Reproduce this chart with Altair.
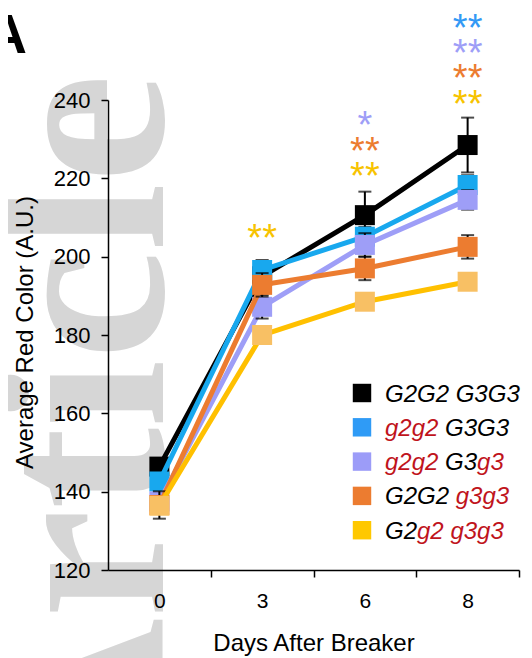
import altair as alt
import pandas as pd

# ---------------- data ----------------
days = ["0", "3", "6", "8"]
series_names = ["G2G2 G3G3", "g2g2 G3G3", "g2g2 G3g3", "G2G2 g3g3", "G2g2 g3g3"]

black_mean = [146.4, 195.0, 210.6, 228.5]
black_err = [1.5, 4.0, 6.0, 7.0]
blue_mean = [142.6, 196.6, 205.1, 218.3]
blue_err = [2.0, 2.5, 2.5, 2.5]
purple_mean = [137.5, 187.2, 203.0, 214.5]
purple_err = [2.0, 3.0, 3.0, 2.5]
orange_mean = [136.6, 192.8, 197.0, 202.5]
orange_err = [3.5, 3.0, 3.0, 3.0]
yellow_mean = [136.4, 180.0, 188.5, 193.6]
yellow_err = [2.0, 1.5, 1.5, 2.0]

means = [black_mean, blue_mean, purple_mean, orange_mean, yellow_mean]
errs = [black_err, blue_err, purple_err, orange_err, yellow_err]

# significance stars: day index, series index, label, y position in data units
star_day = [1, 2, 2, 2, 3, 3, 3, 3]
star_series = [4, 4, 3, 2, 4, 3, 2, 1]
star_text = ["**", "**", "**", "*", "**", "**", "**", "**"]
star_y = [206.0, 221.9, 228.3, 234.9, 240.3, 246.8, 253.2, 259.7]

# legend label pieces: (text, is_red); spaces are kept as separate gaps
legend_pieces = [
    [("G2G2", False), (" ", False), ("G3G3", False)],
    [("g2g2", True), (" ", False), ("G3G3", False)],
    [("g2g2", True), (" ", False), ("G3", False), ("g3", True)],
    [("G2G2", False), (" ", False), ("g3g3", True)],
    [("G2", False), ("g2", True), (" ", False), ("g3g3", True)],
]

# ---------------- style ----------------
line_colors = ["#000000", "#18A8EE", "#9E9EF7", "#EC7C30", "#FFC000"]
marker_colors = ["#000000", "#18A8EE", "#9E9EF7", "#EC7C30", "#F8C064"]
legend_colors = ["#000000", "#2F9BF6", "#9C9CF8", "#EC7C30", "#FFC800"]
star_colors = ["#000000", "#3399F5", "#9E9EF7", "#EC7C30", "#F7C300"]
RED = "#C0141C"
FONT = "Liberation Sans"

W, H = 411, 470

xscale = alt.Scale(domain=[-0.5, 3.5], nice=False, zero=False)
yscale = alt.Scale(domain=[120, 240], nice=False, zero=False)

days_js = "[" + ",".join("'%s'" % d for d in days) + "]"
xaxis = alt.Axis(
    values=[0, 0.5, 1, 1.5, 2, 2.5, 3, 3.5],
    labelExpr=f"datum.value % 1 === 0 ? {days_js}[datum.value] : ''",
    tickOpacity={"condition": {"test": "datum.value % 1 === 0", "value": 0}, "value": 1},
    labelFlush=False, labelOverlap=False,
    tickSize=7, tickWidth=1.5, tickColor="black", domainColor="black", domainWidth=1.5,
    labelFont=FONT, labelFontSize=21, labelColor="black", labelPadding=13,
    title="Days After Breaker", titleFont=FONT, titleFontSize=24, titleFontWeight="normal",
    titleColor="black", titleY=80, titleX=W / 2, titleAlign="center", titleBaseline="alphabetic",
    grid=False, zindex=1,
)
yaxis = alt.Axis(
    values=[120, 140, 160, 180, 200, 220, 240],
    tickSize=7, tickWidth=1.5, tickColor="black", domainColor="black", domainWidth=1.5,
    labelFont=FONT, labelFontSize=22, labelColor="black", labelPadding=11,
    title="Average Red Color (A.U.)", titleFont=FONT, titleFontSize=24, titleFontWeight="normal",
    titleColor="black", titleX=-76, titleY=H / 2 - 3, titleAngle=270, titleAlign="center",
    titleBaseline="alphabetic", grid=False, zindex=1,
)


def X(field="idx:Q"):
    return alt.X(field, scale=xscale, axis=xaxis)


def Y(field):
    return alt.Y(field, scale=yscale, axis=yaxis)


# watermark
wm = alt.Chart(pd.DataFrame({"t": ["Article"]})).mark_text(
    font="Liberation Serif", fontWeight="bold", fontSize=245, color="#D6D6D6",
    angle=270, align="right", baseline="alphabetic",
).encode(x=alt.value(55), y=alt.value(-26), text="t:N")

layers = [wm]
for i, name in enumerate(series_names):
    df = pd.DataFrame({
        "idx": list(range(len(days))),
        "day": days,
        "mean": means[i],
        "lo": [m - e for m, e in zip(means[i], errs[i])],
        "hi": [m + e for m, e in zip(means[i], errs[i])],
        "series": name,
    })
    base = alt.Chart(df)
    layers.append(base.mark_line(color=line_colors[i], strokeWidth=5).encode(x=X(), y=Y("mean:Q")))
    layers.append(base.mark_errorbar(ticks=True, size=13, thickness=2, color="black").encode(
        x=X(), y=Y("lo:Q"), y2="hi:Q"))
    layers.append(base.mark_square(size=400, color=marker_colors[i], opacity=1, filled=True).encode(
        x=X(), y=Y("mean:Q")))

stars = pd.DataFrame({
    "idx": star_day,
    "y": star_y,
    "txt": star_text,
    "col": [star_colors[s] for s in star_series],
})
layers.append(alt.Chart(stars).mark_text(font=FONT, fontSize=38, baseline="alphabetic", dy=18).encode(
    x=X(), y=Y("y:Q"), text="txt:N", color=alt.Color("col:N", scale=None)))

# custom legend (mixed-colour labels)
char_w = {"G": 0.778, "g": 0.556, " ": 0.278}
LFS = 24
lx_sq, lx_txt, ly0, ldy = 254, 277, 293, 34.3
leg_sq = pd.DataFrame({
    "x": [lx_sq] * 5,
    "y": [ly0 + k * ldy for k in range(5)],
    "col": legend_colors,
})
seg_rows = []
for k, pieces in enumerate(legend_pieces):
    off = 0.0
    for txt, red in pieces:
        if txt.strip():
            seg_rows.append({"x": lx_txt + off, "y": ly0 + k * ldy + 8.5, "txt": txt,
                             "col": RED if red else "#000000"})
        off += sum(char_w.get(c, 0.556) for c in txt) * LFS
leg_txt = pd.DataFrame(seg_rows)

layers.append(alt.Chart(leg_sq).mark_square(size=340, opacity=1, filled=True).encode(
    x=alt.X("x:Q", scale=None), y=alt.Y("y:Q", scale=None), color=alt.Color("col:N", scale=None)))
layers.append(alt.Chart(leg_txt).mark_text(font=FONT, fontStyle="italic", fontSize=LFS, align="left",
                                           baseline="alphabetic").encode(
    x=alt.X("x:Q", scale=None), y=alt.Y("y:Q", scale=None), text="txt:N",
    color=alt.Color("col:N", scale=None)))

# panel letter
panel = alt.Chart(pd.DataFrame({"t": ["A"]})).mark_text(
    font=FONT, fontWeight="bold", fontSize=55, align="center", baseline="alphabetic", color="black"
).encode(x=alt.value(-101), y=alt.value(-47), text="t:N")
layers.append(panel)

chart = alt.layer(*layers).properties(
    width=W, height=H,
    padding={"left": 100, "top": 92, "right": 5, "bottom": 88},
    autosize=alt.AutoSizeParams(type="none"),
    background="white",
).configure_view(stroke=None)

chart.save("out.html", embed_options={"renderer": "svg", "actions": False})
